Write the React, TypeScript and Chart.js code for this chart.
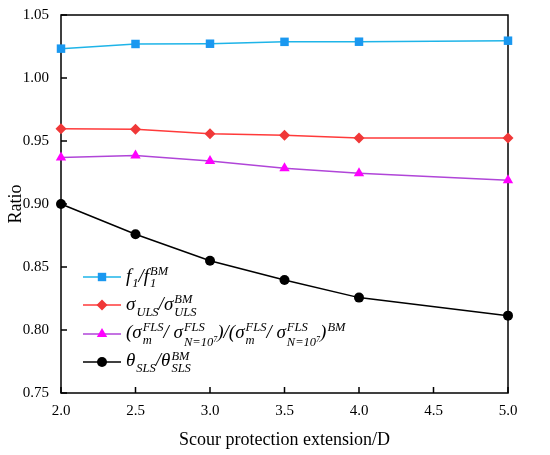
import React, { useEffect, useRef } from "react";
import { Chart, registerables } from "chart.js";

Chart.register(...registerables);

const extension = [2.0, 2.5, 3.0, 3.5, 4.0, 5.0];
const freqRatio = [1.0233, 1.027, 1.0272, 1.0287, 1.0288, 1.0296];
const ulsRatio = [0.9598, 0.9593, 0.9558, 0.9545, 0.9524, 0.9524];
const flsRatio = [0.937, 0.9384, 0.9341, 0.9283, 0.9244, 0.9188];
const slsRatio = [0.9, 0.876, 0.855, 0.8397, 0.8257, 0.8114];

const FONT = "'Liberation Serif', 'Times New Roman', serif";

const series = [
  { values: freqRatio, line: "#1EB4E8", point: "#1A98F0", style: "rect", radius: 6 },
  { values: ulsRatio, line: "#FF3A3A", point: "#F03838", style: "rectRot", radius: 5.5 },
  { values: flsRatio, line: "#B045D8", point: "#FF00FF", style: "triangle", radius: 6 },
  { values: slsRatio, line: "#000000", point: "#000000", style: "circle", radius: 5 },
];

// inward ticks + closed frame around the plot
const frameTicks = {
  id: "frameTicks",
  beforeDatasetsDraw(chart: any) {
    const { ctx, chartArea: a, scales } = chart;
    ctx.save();
    ctx.strokeStyle = "#000";
    ctx.lineWidth = 1.5;
    ctx.strokeRect(a.left, a.top, a.right - a.left, a.bottom - a.top);
    ctx.beginPath();
    scales.x.ticks.forEach((t: any) => {
      const px = scales.x.getPixelForValue(t.value);
      ctx.moveTo(px, a.bottom);
      ctx.lineTo(px, a.bottom - 6);
    });
    scales.y.ticks.forEach((t: any) => {
      const py = scales.y.getPixelForValue(t.value);
      ctx.moveTo(a.left, py);
      ctx.lineTo(a.left + 6, py);
    });
    ctx.stroke();
    ctx.restore();
  },
};

function Marker({ style, color, line }: { style: string; color: string; line: string }) {
  let shape: React.ReactNode;
  if (style === "rect") shape = <rect x={14.8} y={3.8} width={8.4} height={8.4} fill={color} />;
  else if (style === "rectRot") shape = <polygon points="19,2.5 24.5,8 19,13.5 13.5,8" fill={color} />;
  else if (style === "triangle") shape = <polygon points="19,2 24.2,11 13.8,11" fill={color} />;
  else shape = <circle cx={19} cy={8} r={5} fill={color} />;
  return (
    <svg width={38} height={16} style={{ display: "block", flex: "none" }}>
      <line x1={0} y1={8} x2={38} y2={8} stroke={line} strokeWidth={1.5} />
      {shape}
    </svg>
  );
}

function Scr({ sup, sub }: { sup?: React.ReactNode; sub?: React.ReactNode }) {
  return (
    <span
      style={{
        display: "inline-flex",
        flexDirection: "column",
        verticalAlign: "middle",
        fontSize: 12.5,
        lineHeight: "12.5px",
        marginLeft: 1,
      }}
    >
      <span style={{ height: 12.5 }}>{sup ?? "\u00a0"}</span>
      <span style={{ height: 12.5 }}>{sub ?? "\u00a0"}</span>
    </span>
  );
}

const n107 = (
  <>
    N=10<sup style={{ fontSize: 8, verticalAlign: "4px" }}>7</sup>
  </>
);

const labels: React.ReactNode[] = [
  <>
    f<Scr sub="1" />/f<Scr sup="BM" sub="1" />
  </>,
  <>
    σ<Scr sub="ULS" />/σ<Scr sup="BM" sub="ULS" />
  </>,
  <>
    (σ<Scr sup="FLS" sub="m" />/ σ<Scr sup="FLS" sub={n107} />)/(σ<Scr sup="FLS" sub="m" />/ σ
    <Scr sup="FLS" sub={n107} />)<Scr sup="BM" />
  </>,
  <>
    θ<Scr sub="SLS" />/θ<Scr sup="BM" sub="SLS" />
  </>,
];

function Legend() {
  return (
    <div style={{ position: "absolute", left: 83, top: 263, fontFamily: FONT, fontStyle: "italic", fontSize: 19 }}>
      {series.map((s, i) => (
        <div key={i} style={{ display: "flex", alignItems: "center", height: 28.3, whiteSpace: "nowrap" }}>
          <Marker style={s.style} color={s.point} line={s.line} />
          <span style={{ marginLeft: 5 }}>{labels[i]}</span>
        </div>
      ))}
    </div>
  );
}

export default function App() {
  const canvasRef = useRef<HTMLCanvasElement>(null);

  useEffect(() => {
    document.body.style.margin = "0";
    if (!canvasRef.current) return;
    const chart = new Chart(canvasRef.current, {
      type: "line",
      data: {
        datasets: series.map((s) => ({
          data: extension.map((x, i) => ({ x, y: s.values[i] })),
          borderColor: s.line,
          borderWidth: 1.5,
          pointStyle: s.style as any,
          pointRadius: s.radius,
          pointBackgroundColor: s.point,
          pointBorderColor: s.point,
          pointBorderWidth: 0,
          clip: false as any,
        })),
      },
      options: {
        animation: false,
        responsive: true,
        maintainAspectRatio: false,
        layout: { padding: { left: 0, top: 15, right: 42, bottom: 0 } },
        plugins: { legend: { display: false }, tooltip: { enabled: false } },
        scales: {
          x: {
            type: "linear",
            min: 2,
            max: 5,
            grid: { display: false },
            border: { display: false },
            ticks: {
              stepSize: 0.5,
              padding: 1,
              color: "#000",
              font: { family: FONT, size: 15 },
              callback: (v: any) => Number(v).toFixed(1),
            },
            title: {
              display: true,
              text: "Scour protection extension/D",
              color: "#000",
              font: { family: FONT, size: 18 },
              padding: { top: 0, bottom: 4 },
            },
            afterFit: (scale: any) => {
              scale.height = 62;
            },
          },
          y: {
            min: 0.75,
            max: 1.05,
            grid: { display: false },
            border: { display: false },
            ticks: {
              stepSize: 0.05,
              padding: 4,
              color: "#000",
              font: { family: FONT, size: 15 },
              callback: (v: any) => Number(v).toFixed(2),
            },
            title: {
              display: true,
              text: "Ratio",
              color: "#000",
              font: { family: FONT, size: 18 },
              padding: { top: 5, bottom: 0 },
            },
            afterFit: (scale: any) => {
              scale.width = 61;
            },
          },
        },
      },
      plugins: [frameTicks],
    });
    return () => chart.destroy();
  }, []);

  return (
    <div style={{ position: "relative", width: 550, height: 455, background: "#fff" }}>
      <canvas ref={canvasRef} />
      <Legend />
    </div>
  );
}
